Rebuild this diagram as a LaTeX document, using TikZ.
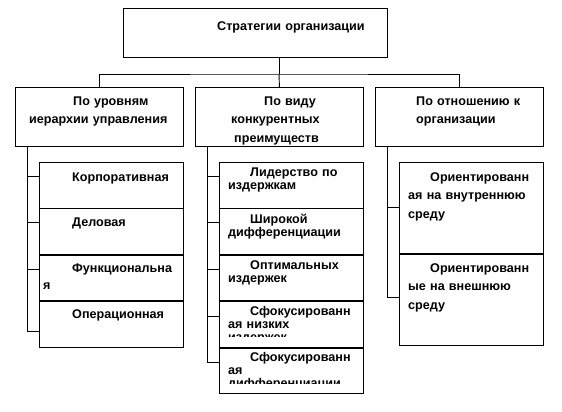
\documentclass[tikz,border=0pt]{standalone}
\usepackage{fontspec}
\setmainfont{Liberation Sans}
\usetikzlibrary{positioning,calc}

\begin{document}
\begin{tikzpicture}[
    x=1pt, y=-1pt,
    box/.style={draw, line width=0.9pt, anchor=north west, inner sep=0pt},
    topbox/.style={box, minimum width=264pt, minimum height=49pt},
    lvbox/.style={box, minimum width=168pt, minimum height=59pt},
    itembox/.style={box, minimum width=144pt, minimum height=45.5pt},
    conn/.style={line width=0.9pt},
    txt/.style={inner sep=0pt, anchor=base west, text width=200pt, align=left, font=\bfseries\fontsize{12.6}{18.5}\selectfont},
    tight/.style={txt, font=\bfseries\fontsize{12.6}{13}\selectfont}
]
\useasboundingbox (0,0) rectangle (562,412);

% Top
\node[topbox] (top) at (123,8) {};
\node[txt] (tTop) at (217,31) {Стратегии организации};

% Level 2
\node[lvbox] (lvA) at (15,87) {};
\node[lvbox] (lvB) at (195,87) {};
\node[lvbox] (lvC) at (375,87) {};
\node[txt] (tA) at (29,105) {\hspace*{44pt}По уровням\\иерархии управления};
\node[txt] (tB) at (231,105) {\hspace*{33pt}По виду\\конкурентных\\\hspace*{3pt}преимуществ};
\node[txt] (tC) at (416,105) {По отношению к\\организации};

\coordinate (bar) at (279,74);
\draw[conn] (top.south -| bar) -- (bar);
\draw[conn] (lvA.north) |- (bar) -| (lvC.north);
\draw[conn] (bar) -- (lvB.north);

% By hierarchy level
\node[itembox] (a1) at (39,162) {};
\node[itembox, below=0pt of a1] (a2) {};
\node[itembox, below=0pt of a2] (a3) {};
\node[itembox, below=0pt of a3] (a4) {};
\node[txt] (tA1) at (43,181) {\hspace*{29pt}Корпоративная};
\node[txt] (tA2) at (43,226) {\hspace*{29pt}Деловая};
\node[txt, font=\bfseries\fontsize{12.6}{17}\selectfont] (tA3) at (43,272) {\hspace*{29pt}Функциональна\\я};
\node[txt] (tA4) at (43,318) {\hspace*{29pt}Операционная};
\coordinate (trA) at (27,0);
\foreach \b/\d in {a1/14,a2/14,a3/15,a4/30}
    \draw[conn] (lvA.south -| trA) |- ([yshift=-\d]\b.north west);

% By competitive advantage
\node[itembox] (b1) at (219,162) {};
\node[itembox, below=0pt of b1] (b2) {};
\node[itembox, below=0pt of b2] (b3) {};
\node[itembox, below=0pt of b3] (b4) {};
\node[itembox, below=0pt of b4] (b5) {};
\node[tight] (tB1) at (228,176) {\hspace*{22pt}Лидерство по\\издержкам};
\node[tight] (tB2) at (228,223) {\hspace*{22pt}Широкой\\дифференциации};
\node[tight] (tB3) at (228,269) {\hspace*{22pt}Оптимальных\\издержек};
\begin{scope}
    \clip (b4.north west) rectangle ([yshift=11.5]b4.south east);
    \node[tight] (tB4) at (228,315) {\hspace*{22pt}Сфокусированн\\ая низких\\издержек};
\end{scope}
\begin{scope}
    \clip (b5.north west) rectangle ([yshift=11]b5.south east);
    \node[tight] (tB5) at (228,361) {\hspace*{22pt}Сфокусированн\\ая\\дифференциации};
\end{scope}
\coordinate (trB) at (207,0);
\foreach \b/\d in {b1/14,b2/14,b3/15,b4/15,b5/15}
    \draw[conn] (lvB.south -| trB) |- ([yshift=-\d]\b.north west);

% By relation to the organization
\node[itembox, minimum height=91pt] (c1) at (399,162) {};
\node[itembox, minimum height=91pt, below=0pt of c1] (c2) {};
\node[txt] (tC1) at (408,181) {\hspace*{22pt}Ориентированн\\ая на внутреннюю\\среду};
\node[txt] (tC2) at (408,272) {\hspace*{22pt}Ориентированн\\ые на внешнюю\\среду};
\coordinate (trC) at (387,0);
\foreach \b/\d in {c1/45,c2/44}
    \draw[conn] (lvC.south -| trC) |- ([yshift=-\d]\b.north west);

\end{tikzpicture}
\end{document}
